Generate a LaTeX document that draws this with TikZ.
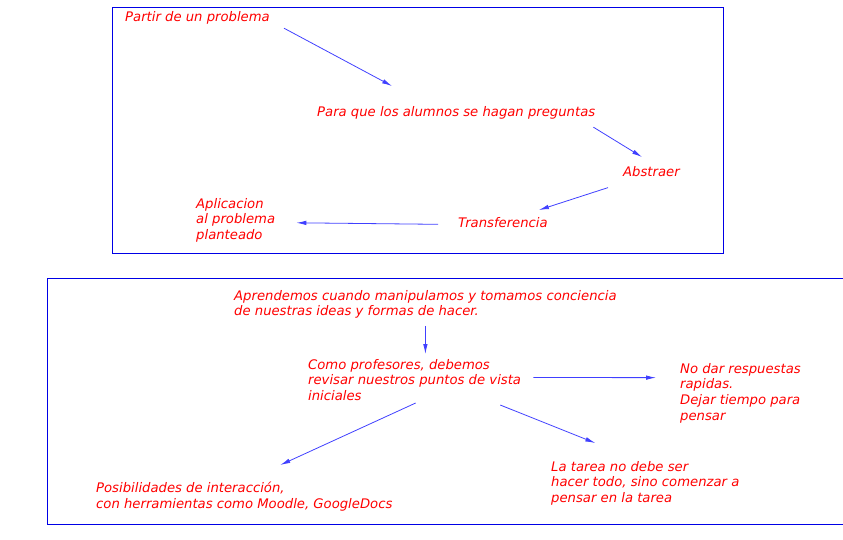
\documentclass[tikz,border=0pt]{standalone}
\usepackage{fontspec}
\setmainfont{DejaVu Sans}
\usetikzlibrary{arrows.meta, positioning, calc}
\definecolor{rojo}{HTML}{FF0000}
\definecolor{azul}{HTML}{0000E6}
\definecolor{azulflecha}{HTML}{4040FF}

\begin{document}
\begin{tikzpicture}[x=1pt, y=-1pt,
    nota/.style={anchor=north west, inner sep=0pt, align=left, text=rojo, font=\fontsize{13.2}{15.7}\selectfont\itshape},
    marco/.style={draw=azul, line width=0.9pt},
    flecha/.style={draw=azulflecha, line width=0.8pt, -{Latex[length=10pt, width=4.5pt]}}]
  \useasboundingbox (0,0) rectangle (843,539);
  \draw[marco] (112,7) rectangle (723,253);
  \draw[marco] (843,278) -- (47,278) -- (47,524) -- (843,524);

  \node[nota] (partir) at (125,11) {Partir de un problema};
  \node[nota] (preguntas) at (317,106) {Para que los alumnos se hagan preguntas};
  \node[nota] (abstraer) at (623,166) {Abstraer};
  \node[nota] (transfer) at (458,217) {Transferencia};
  \node[nota] (aplicacion) at (196,198) {Aplicacion\\al problema\\planteado};

  \node[nota] (aprendemos) at (234,290) {Aprendemos cuando manipulamos y tomamos conciencia\\de nuestras ideas y formas de hacer.};
  \node[nota] (profesores) at (308,359) {Como profesores, debemos\\revisar nuestros puntos de vista\\iniciales};
  \node[nota] (nodar) at (680,363) {No dar respuestas\\rapidas.\\Dejar tiempo para\\pensar};
  \node[nota] (tarea) at (551,461) {La tarea no debe ser\\hacer todo, sino comenzar a\\pensar en la tarea};
  \node[nota] (posib) at (96,482) {Posibilidades de interacción,\\con herramientas como Moodle, GoogleDocs};

  \draw[flecha] ([shift={(14,4)}]partir.south east) -- ([shift={(75,-20)}]preguntas.north west);
  \draw[flecha] ([shift={(-2,8)}]preguntas.south east) -- ([shift={(19,-9)}]abstraer.north west);
  \draw[flecha] ([shift={(-15,11)}]abstraer.south west) -- ([shift={(-9,-7)}]transfer.north east);
  \draw[flecha] ([shift={(-20,2)}]transfer.west) -- ([shift={(21,2.5)}]aplicacion.east);

  \draw[flecha] ([shift={(0,7)}]aprendemos.south) -- ([shift={(0,-5)}]aprendemos.south |- profesores.north);
  \draw[flecha] ([shift={(12,-2.5)}]profesores.east) -- ([shift={(-24,-15.5)}]nodar.west);
  \draw[flecha] ([shift={(1,2)}]profesores.south) -- ([shift={(36,-17)}]posib.north);
  \draw[flecha] ([shift={(-21,4)}]profesores.south east) -- ([shift={(-50,-18)}]tarea.north);
\end{tikzpicture}
\end{document}
